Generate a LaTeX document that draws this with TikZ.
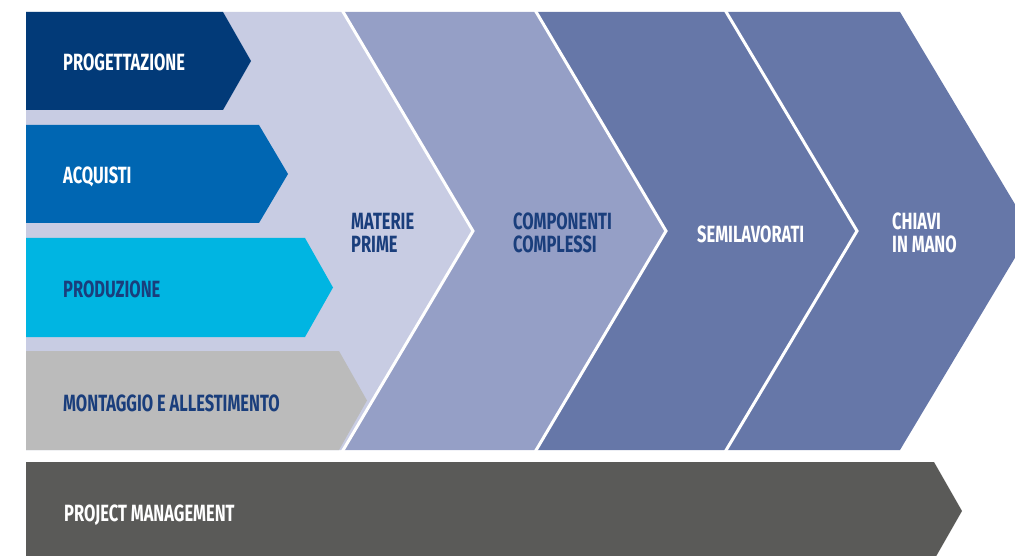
\documentclass[tikz,border=0pt]{standalone}
\usepackage{fontspec}
\newfontfamily\dinfont[FakeStretch=0.70]{Fira Sans}
\definecolor{cProg}{HTML}{023A78}
\definecolor{cAcq}{HTML}{0066B2}
\definecolor{cProd}{HTML}{00B5E2}
\definecolor{cMont}{HTML}{BBBBBB}
\definecolor{cMat}{HTML}{C8CCE3}
\definecolor{cComp}{HTML}{959FC6}
\definecolor{cSemi}{HTML}{6677A8}
\definecolor{cPM}{HTML}{5A5A58}
\definecolor{cNavy}{HTML}{1A3E7C}
\tikzset{
  lbl/.style={anchor=base west, inner sep=0pt, font=\dinfont\bfseries\fontsize{23.5}{23.5}\selectfont, align=left},
  sep/.style={draw=white, line width=3pt, line join=miter},
}
\begin{document}
\begin{tikzpicture}[x=1pt,y=-1pt]
\useasboundingbox (0,0) rectangle (1015,556);
\clip (0,0) rectangle (1015,556);
% big chevrons
\fill[cMat] (26,12) -- (342,12) -- (473,231) -- (342,450) -- (26,450) -- cycle;
% small arrows
\fill[cProg] (26,12) -- (223,12) -- (251,61) -- (223,110) -- (26,110) -- cycle;
\fill[cAcq] (26,125) -- (259,125) -- (288,174) -- (259,223) -- (26,223) -- cycle;
\fill[cProd] (26,238) -- (305,238) -- (333,287.5) -- (305,337) -- (26,337) -- cycle;
\fill[cMont] (26,351) -- (339,351) -- (367,400.5) -- (339,450) -- (26,450) -- cycle;
% further chevrons
\fill[cComp] (342,12) -- (535,12) -- (666,231) -- (535,450) -- (342,450) -- (473,231) -- cycle;
\fill[cSemi] (535,12) -- (725,12) -- (857,231) -- (725,450) -- (535,450) -- (666,231) -- cycle;
\fill[cSemi] (725,12) -- (900,12) -- (1031,231) -- (900,450) -- (725,450) -- (857,231) -- cycle;
\draw[sep] (342,10) -- (473,231) -- (342,452);
\draw[sep] (535,10) -- (666,231) -- (535,452);
\draw[sep] (725,10) -- (857,231) -- (725,452);
% project management bar
\fill[cPM] (26,462) -- (934,462) -- (962,511) -- (934,560) -- (26,560) -- cycle;
% labels
\node[lbl, text=white] (prog) at (63,71) {PROGETTAZIONE};
\node[lbl, text=white] (acq) at (63,184) {ACQUISTI};
\node[lbl, text=cNavy] (prod) at (63,298) {PRODUZIONE};
\node[lbl, text=cNavy] (mont) at (63,411) {MONTAGGIO E ALLESTIMENTO};
\node[lbl, text=cNavy] (mat) at (351,253) {MATERIE\\PRIME};
\node[lbl, text=cNavy] (comp) at (513,253) {COMPONENTI\\COMPLESSI};
\node[lbl, text=white] (semi) at (697,243) {SEMILAVORATI};
\node[lbl, text=white] (chiavi) at (892,253) {CHIAVI\\IN MANO};
\node[lbl, text=white] (pm) at (64,521) {PROJECT MANAGEMENT};
\end{tikzpicture}
\end{document}
